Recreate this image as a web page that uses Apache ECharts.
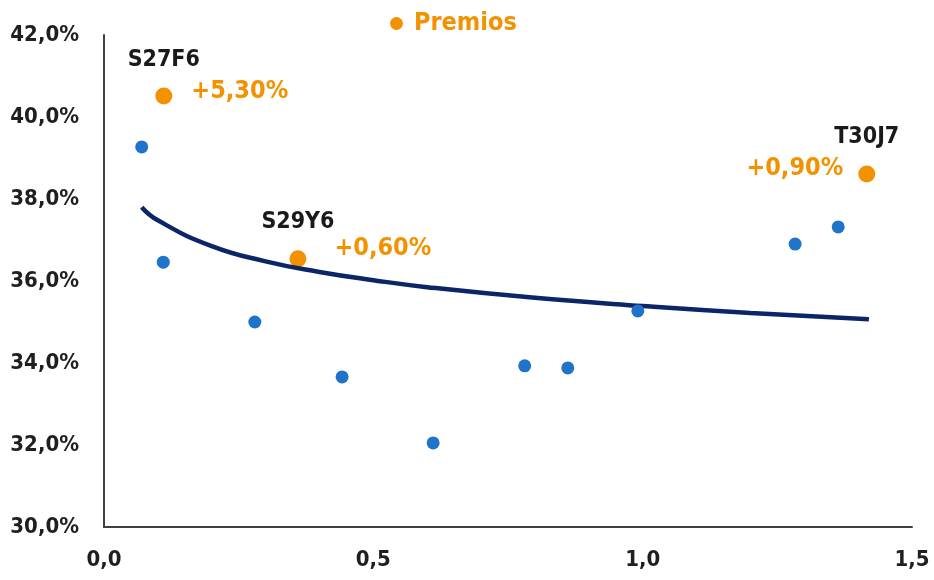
<!DOCTYPE html>
<html>
<head>
<meta charset="utf-8">
<script src="https://cdn.jsdelivr.net/npm/echarts@6/dist/echarts.min.js"></script>
<style>
  html, body { margin: 0; padding: 0; background: #fff; }
  #chart { width: 934px; height: 580px; }
</style>
</head>
<body>
<div id="chart"></div>
<script>
// other points (blue)
const otherX = [0.070, 0.110, 0.280, 0.442, 0.611, 0.781, 0.861, 0.991, 1.283, 1.363];
const otherY = [39.27, 36.46, 35.00, 33.66, 32.05, 33.93, 33.88, 35.27, 36.90, 37.32];

// premios (orange)
const premNames = ['S27F6', 'S29Y6', 'T30J7'];
const premX = [0.111, 0.360, 1.416];
const premY = [40.51, 36.54, 38.61];
const premPct = ['+5,30%', '+0,60%', '+0,90%'];

// trend line
const trendX = [0.07, 0.10, 0.20, 0.30, 0.40, 0.50, 0.60, 0.80, 1.00, 1.20, 1.42];
const trendY = [37.80, 37.48, 36.85, 36.48, 36.22, 36.02, 35.85, 35.59, 35.39, 35.22, 35.07];

const FONT = 'DejaVu Sans Condensed';
const ORANGE = '#f39200';
const BLUE = '#1f73c9';
const NAVY = '#0b2566';

const chart = echarts.init(document.getElementById('chart'));

// label placement per premio point
const pctPos = [
  { position: 'right', offset: [14, -5] },
  { position: 'right', offset: [23, -10] },
  { position: 'left', offset: [-10, -5] }
];

const options = {
  animation: false,
  textStyle: { fontFamily: FONT },
  grid: { left: 104, right: 22, top: 35, bottom: 53 },
  legend: {
    data: [{ name: 'Premios', icon: 'circle' }],
    left: 385, top: 6,
    itemWidth: 13, itemHeight: 13,
    textStyle: { color: ORANGE, fontSize: 25, fontWeight: 'bold', fontFamily: FONT, padding: [0, 0, 0, 6] }
  },
  xAxis: {
    type: 'value',
    min: 0, max: 1.5, interval: 0.5,
    splitLine: { show: false },
    axisTick: { show: false },
    axisLine: { lineStyle: { color: '#404040', width: 2 } },
    axisLabel: {
      margin: 22,
      color: '#1f1f1f', fontSize: 22, fontWeight: 'bold', fontFamily: FONT,
      formatter: v => v.toFixed(1).replace('.', ',')
    }
  },
  yAxis: {
    type: 'value',
    min: 30, max: 42, interval: 2,
    splitLine: { show: false },
    axisTick: { show: false },
    axisLine: { show: true, lineStyle: { color: '#404040', width: 2 } },
    axisLabel: {
      margin: 25,
      color: '#1f1f1f', fontSize: 22, fontWeight: 'bold', fontFamily: FONT,
      formatter: v => v.toFixed(1).replace('.', ',') + '%'
    }
  },
  series: [
    {
      name: 'Premios',
      type: 'scatter',
      symbolSize: 17,
      itemStyle: { color: ORANGE, opacity: 1 },
      z: 2,
      data: premX.map((x, i) => ({
        value: [x, premY[i]],
        label: {
          show: true,
          formatter: premPct[i],
          color: ORANGE, fontSize: 25, fontWeight: 'bold', fontFamily: FONT,
          ...pctPos[i]
        }
      }))
    },
    {
      name: 'nombres',
      type: 'scatter',
      symbolSize: 0,
      itemStyle: { color: ORANGE, opacity: 1 },
      silent: true,
      z: 2,
      data: premX.map((x, i) => ({
        value: [x, premY[i]],
        label: {
          show: true,
          position: 'top',
          distance: 25,
          formatter: premNames[i],
          color: '#1a1a1a', fontSize: 23, fontWeight: 'bold', fontFamily: FONT
        }
      }))
    },
    {
      name: 'Tendencia',
      type: 'line',
      smooth: true,
      symbol: 'none',
      lineStyle: { color: NAVY, width: 4.5 },
      z: 3,
      data: trendX.map((x, i) => [x, trendY[i]])
    },
    {
      name: 'Otros',
      type: 'scatter',
      symbolSize: 13,
      itemStyle: { color: BLUE, opacity: 1 },
      z: 4,
      data: otherX.map((x, i) => [x, otherY[i]])
    }
  ]
};

chart.setOption(options);
</script>
</body>
</html>
